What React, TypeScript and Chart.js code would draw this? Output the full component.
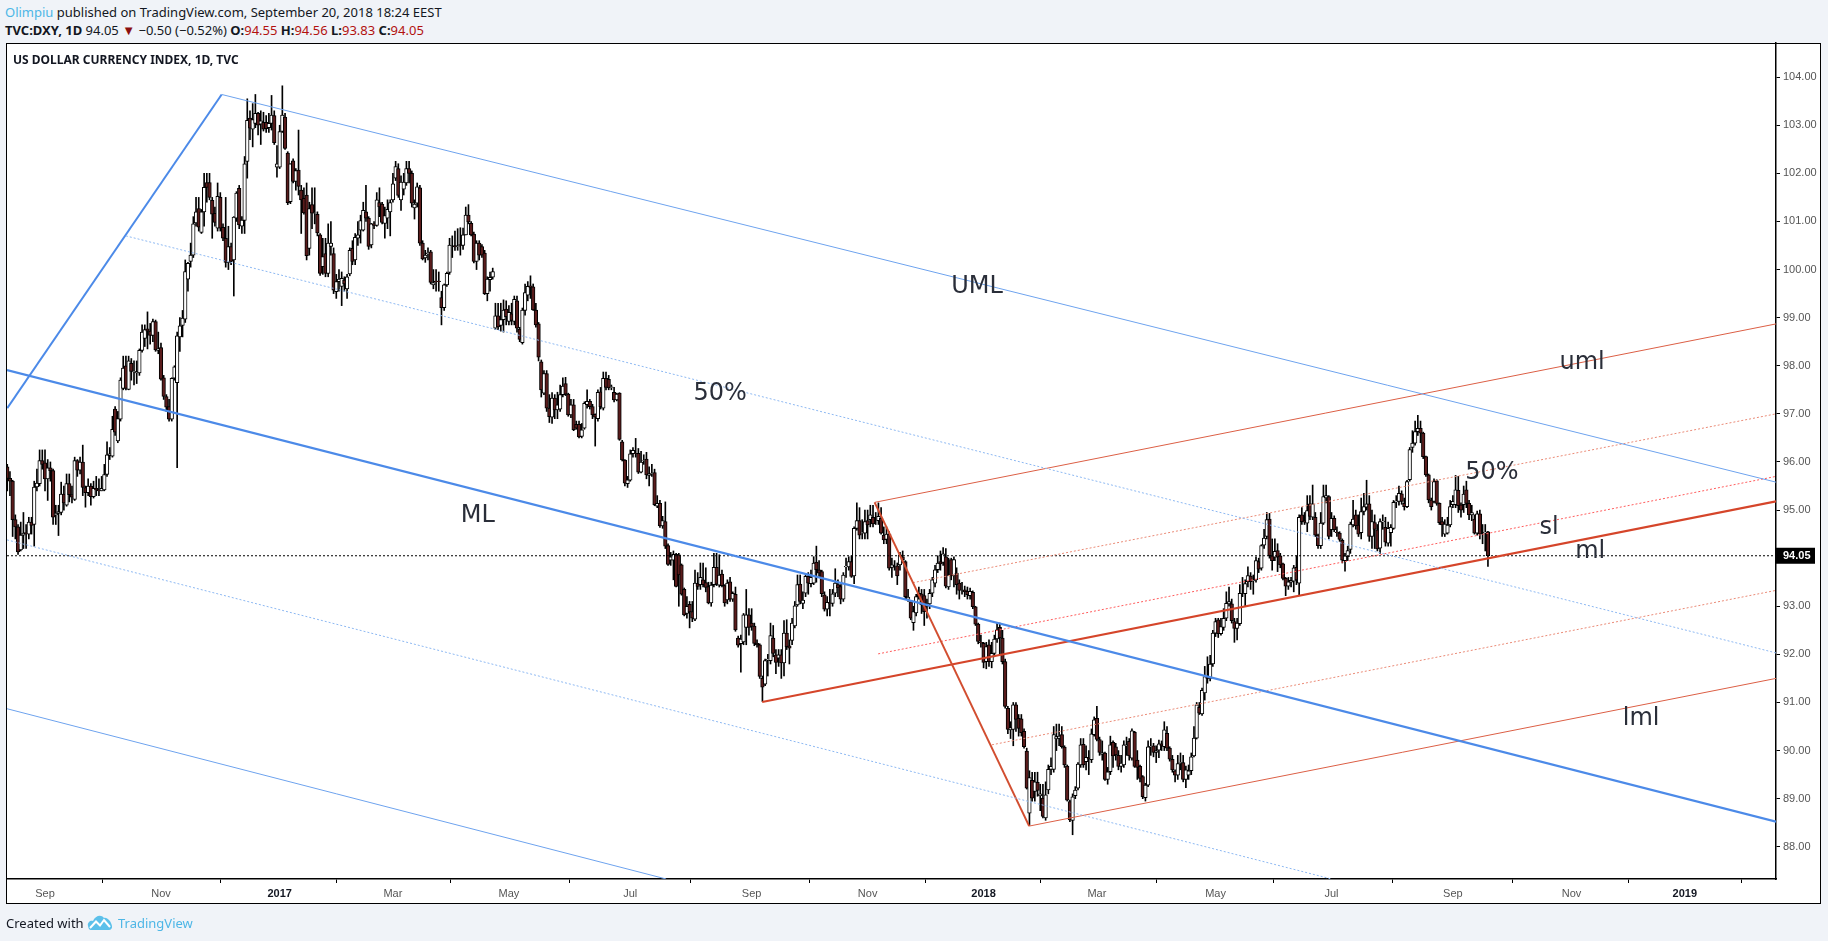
import React, { useEffect, useRef } from "react";
import { Chart, registerables } from "chart.js";

Chart.register(...registerables);

const firstBar = -14;
const opens = [
95.9,95.66,95.6,94.8,94.65,94.17,94.48,94.53,94.5,94.75,
94.7,95.48,95.55,96.03,95.98,95.65,95.88,95.82,94.9,94.93,
94.95,95.33,95.1,95.55,95.32,95.22,96.03,95.83,96,95.47,
95.36,95.5,95.28,95.45,95.42,95.4,95.42,95.74,96.13,96.12,
97.1,96.44,96.89,97.53,98,97.51,98.05,97.87,97.85,97.85,
98.32,98.57,98.77,98.72,98.63,98.92,98.32,98.38,97.75,97.36,
97.15,96.89,97.74,97.65,98.6,98.84,98.97,99.8,100.17,100.3,
100.97,101.27,100.77,101.2,101.81,101.81,101.44,101.17,100.86,101.5,
100.88,100.65,100.15,100.48,100.2,101.07,101.69,100.9,101.02,102.25,
103.15,102.92,103.04,103.25,103.02,103.06,103.06,102.95,103.04,103.2,
102.13,102.13,102.87,103.17,102.42,101.41,102.26,101.83,102.07,101.65,
101.48,101.55,100.44,101.35,101.17,101.15,100.72,100.06,100.33,99.92,
100.48,100.33,99.54,99.75,99.65,99.78,99.6,99.91,100.44,100.2,
100.65,100.82,100.82,101.2,101.07,100.51,100.95,100.92,101.39,101.36,
100.96,101.07,101.2,101.45,101.9,102.1,101.45,101.67,101.8,102.1,
102,101.28,101.38,101.7,100.55,100.24,100.33,100.37,99.68,99.76,
99.76,99.42,99.21,99.68,99.94,100.49,100.5,100.48,100.52,100.5,
100.72,101.13,100.96,100.74,100.17,100.55,100.48,100.34,99.5,99.79,
99.84,98.78,99.04,98.84,98.96,99.18,98.92,99.08,98.92,99.35,
98.76,98.48,99.15,99.47,99.66,99.64,99.16,98.87,98.08,97.43,
97.84,97.12,96.93,97.33,97.08,97.1,97.4,97.63,97.41,96.98,
97.19,96.78,96.78,96.53,96.7,97.19,97.26,97.15,96.99,96.9,
97.46,97.12,97.74,97.72,97.55,97.45,97.29,97.43,96.42,96.04,
95.55,95.62,96.17,96.18,96.18,95.79,96.03,96.06,95.72,95.76,
95.78,95.08,95.14,94.67,94.76,94.26,93.96,93.96,94.08,94.07,
93.86,93.35,92.85,93.04,92.89,92.73,93.47,93.45,93.55,93.49,
93.41,93.07,93.45,93.81,93.44,93.67,93.43,93.13,93.51,93.15,
93.25,92.34,92.22,92.26,92.56,92.82,92.65,92.59,92.23,92.2,
91.5,91.38,91.88,91.87,92.34,91.99,91.92,91.99,91.82,92.44,
92.18,92.29,92.59,93.03,93.46,93.06,93.27,93.62,93.47,93.48,
93.92,93.76,93.72,93.24,92.94,93.07,93.06,93.27,93.45,93.41,
93.15,93.82,93.82,93.93,93.63,94.62,94.78,94.52,94.52,94.78,
94.8,94.85,94.8,94.78,94.83,94.48,94.39,94.5,93.81,93.86,
93.84,93.86,94.03,93.93,93.14,93.1,92.66,92.86,93.27,93.26,
93.22,93,93.05,93.27,93.48,93.76,93.93,93.91,94.03,93.4,
93.97,93.63,93.69,93.48,93.35,93.34,93.31,93.22,93.29,92.99,
92.63,92.25,92.23,91.85,92.2,91.85,92.02,92.32,92.56,92.34,
91.85,90.88,90.43,90.44,90.95,90.67,90.66,90.4,89.99,88.7,
89.38,89.15,89.34,89.06,89.01,88.6,89.18,89.61,89.61,90.24,
90.25,90.33,90.07,89.68,88.94,88.55,89.06,89.22,89.7,90.13,
89.77,89.85,89.81,90.33,90.67,90.23,89.92,89.95,89.4,89.56,
90.17,90.08,89.9,89.67,89.7,90.1,90.19,89.84,90.38,89.8,
89.67,89.46,89.02,89.28,90.08,90.1,89.96,90.01,90.14,90.08,
90.36,90.05,89.82,89.58,89.49,89.74,89.75,89.4,89.49,89.58,
89.89,90.26,90.9,90.76,91.2,91.55,91.5,91.8,92.44,92.72,
92.43,92.56,92.75,93.05,93.05,92.68,92.54,92.64,93.3,93.26,
93.51,93.63,93.53,93.55,93.93,93.79,94.27,94.45,94.81,94.05,
94.02,94.16,94.05,93.88,93.58,93.42,93.5,93.52,93.81,93.48,
94.9,94.78,94.73,95.13,94.85,94.85,94.48,94.26,94.73,95.25,
95.28,94.59,94.83,94.54,94.52,94.37,93.95,94.03,94.18,94.69,
94.9,94.69,94.53,94.97,95.06,95.13,94.45,94.74,94.59,94.21,
94.76,94.64,94.31,94.53,94.62,95.17,95.18,95.34,95.14,95.07,
95.63,96.3,96.39,96.63,96.7,96.6,96.11,95.73,95.21,95.18,
95.61,95.14,94.76,94.5,94.52,94.69,95.11,95.11,95.41,95.11,
95.11,95.42,95.14,94.9,94.81,94.52,94.92,94.52,94.53,94.55,
];
const highs = [
95.95,95.8,95.62,94.9,94.7,94.75,94.95,94.7,94.85,94.85,
95.6,95.85,96.25,96.25,96.25,96.05,96,95.85,95.1,95.1,
95.58,95.5,95.75,95.75,95.5,96.1,96.05,96.1,96.35,95.5,
95.65,95.55,95.6,95.7,95.65,95.7,95.95,96.42,96.3,96.95,
97.15,97.05,97.75,98.2,98.2,98.2,98.15,98.1,98.1,98.35,
98.85,98.85,99.12,98.88,98.97,98.95,98.7,98.47,97.8,97.4,
97.3,97.75,98,98.7,99,99.15,100.2,100.15,100.55,101.1,
101.5,101.5,101.25,102,102,102,101.5,101.3,101.8,101.6,
100.95,101.5,100.9,100.55,101.1,101.62,101.75,101.1,102.35,103.55,
103.3,103.45,103.64,103.27,103.3,103.27,103.2,103.25,103.62,103.3,
102.58,103,103.82,103.25,102.45,102.2,102.3,102.1,102.9,101.75,
101.7,101.8,101.4,101.7,101.7,101.2,100.75,100.65,100.65,100.95,
101,100.45,99.9,100,99.95,99.85,99.9,100.45,100.6,100.75,
101,101.13,101.4,101.75,101.1,100.96,101,101.6,101.7,101.4,
101.3,101.45,101.45,102,102.25,102.2,101.95,102,102.25,102.25,
102.05,101.45,101.8,101.75,100.6,100.4,100.45,100.4,100,100,
99.95,99.55,99.7,99.95,100.65,100.7,100.8,100.85,100.87,100.86,
101.3,101.35,101,100.78,100.6,100.6,100.52,100.4,99.85,99.95,
100.03,99.3,99.3,99.3,99.37,99.35,99.25,99.3,99.45,99.45,
98.8,99.2,99.7,99.75,99.87,99.7,99.3,98.9,98.12,97.9,
97.9,97.4,97.44,97.4,97.45,97.6,97.75,97.76,97.43,97.3,
97.3,96.85,96.85,96.8,97.25,97.5,97.3,97.2,97,97.5,
97.55,97.87,97.87,97.8,97.6,97.55,97.43,97.44,96.45,96.05,
95.7,96.25,96.3,96.49,96.28,96.22,96.15,96.2,95.9,95.95,
95.85,95.3,95.2,94.87,95.17,94.3,94.12,94.15,94.1,94.1,
93.88,93.38,93.2,93.1,93.1,93.75,93.7,93.9,93.9,93.8,
93.5,93.5,94.1,94.1,94.07,93.75,93.45,93.55,93.6,93.3,
93.4,92.38,92.4,92.85,93.35,92.95,92.95,92.65,92.3,92.22,
91.55,91.9,92,92.65,92.6,92.1,92.1,92.1,92.7,92.72,
92.3,92.75,93.1,93.65,93.65,93.3,93.65,93.7,93.75,94.03,
94.25,93.95,93.75,93.3,93.2,93.35,93.35,93.78,93.55,93.45,
93.7,94,94.03,94.05,94.65,95.15,95.05,94.8,95,95,
95.1,95.1,94.95,95.15,95.05,94.65,94.65,94.55,94,93.95,
93.9,94.12,94.15,93.95,93.35,93.1,93,93.25,93.4,93.35,
93.35,93.15,93.35,93.6,93.85,94.05,94.15,94.22,94.2,94,
94,94.03,93.8,93.55,93.5,93.42,93.4,93.38,93.32,93,
92.65,92.4,92.25,92.25,92.3,92.25,92.4,92.65,92.65,92.5,
91.9,90.92,90.6,91,91,90.75,90.75,90.45,90.05,89.58,
89.55,89.55,89.55,89.3,89.3,89.35,89.7,89.85,90.5,90.55,
90.55,90.5,90.1,89.7,88.97,89.1,89.25,89.75,90.25,90.25,
90.1,90,90.45,90.7,90.92,90.28,90.2,89.97,89.65,90.3,
90.2,90.15,90,89.9,90.2,90.28,90.25,90.45,90.4,90,
89.7,89.48,89.32,90.2,90.25,90.15,90.1,90.22,90.2,90.6,
90.5,90.08,89.9,89.6,89.9,89.95,89.9,89.68,89.7,89.95,
90.5,91,91,91.3,91.75,91.95,91.98,92.5,92.75,92.75,
92.75,92.95,93.3,93.4,93.15,92.75,92.75,93.45,93.6,93.55,
93.82,93.7,93.65,94.03,94,94.28,94.6,94.95,94.93,94.4,
94.4,94.3,94.1,93.9,93.6,93.6,93.6,93.85,94.05,94.9,
95.05,94.95,95.3,95.3,95.52,94.95,94.5,94.95,95.52,95.52,
95.3,94.95,94.88,94.65,94.55,94.4,94.1,94.25,94.75,95.2,
95,94.9,95.25,95.35,95.62,95.3,95,94.9,94.7,94.82,
94.9,94.85,94.75,94.7,95.2,95.3,95.5,95.4,95.25,95.62,
96.3,96.65,96.85,96.97,96.85,96.62,96.12,95.75,95.25,95.65,
95.63,95.15,94.85,94.8,94.85,95.2,95.3,95.72,95.7,95.15,
95.5,95.6,95.2,95.1,94.9,94.98,95,94.7,94.7,94.56,
];
const lows = [
95.4,95.3,94.45,94.4,94.08,94.15,94.2,94.2,94.4,94.5,
94.25,95.4,95.5,95.85,95.4,95.2,95.6,94.7,94.7,94.47,
94.9,95,95.08,95.17,95.15,95.2,95.7,95.75,95.3,95.06,
95.3,95.1,95.25,95.3,95.3,95.4,95.4,95.7,96.05,96.1,
96.55,96.4,96.85,97.5,97.5,97.5,97.7,97.6,97.63,97.8,
98.28,98.4,98.35,98.45,98.5,98.3,98.25,97.7,97.3,97.05,
96.85,96.85,97.7,95.88,98.3,98.6,98.9,99.55,100.05,100.25,
100.9,100.8,100.75,100.9,101.4,101.45,100.65,100.9,100.8,100.8,
100.6,100.05,100,100.1,99.45,101,100.85,100.75,100.75,101.9,
102.7,102.55,102.95,102.8,102.6,102.88,102.85,102.85,102.9,102.6,
101.92,102.1,102.85,102.5,101.35,101.37,101.8,101.65,101.55,100.75,
101.15,100.2,100.3,100.85,100.95,100.7,99.88,99.9,99.85,99.85,
100.3,99.5,99.4,99.55,99.25,99.55,99.4,99.87,100.1,100.1,
100.5,100.55,100.8,101,100.42,100.45,100.85,100.9,101.1,100.95,
100.65,100.85,100.7,101.4,101.85,101.5,101.23,101.55,101.75,101.8,
101.3,101.05,101.3,100.5,100.2,100.15,100.2,99.7,99.6,99.55,
99.55,98.85,99.15,99.65,99.9,100.25,100.4,100.4,100.3,100.42,
100.72,100.95,100.7,100.14,100,100.2,100.25,99.48,99.35,99.55,
99.8,98.75,98.75,98.72,98.7,98.85,98.85,98.85,98.85,98.7,
98.5,98.45,99.05,99.35,99.4,99.15,98.8,98.1,97.35,97.4,
97.05,96.82,96.8,96.9,96.9,97.05,97.35,97.38,96.95,96.92,
96.65,96.68,96.5,96.5,96.68,97.12,97.1,96.9,96.33,96.85,
97.1,97.08,97.5,97.5,97.5,97.25,97.27,96.45,96.02,95.5,
95.47,95.6,96.1,96.1,95.76,95.77,95.95,95.65,95.5,95.7,
95.09,95.05,94.64,94.62,94.2,93.85,93.85,93.55,93.4,93,
93.23,92.8,92.75,92.55,92.68,92.7,93.35,93.35,93.4,93.3,
93.05,93,93.4,93.43,93.4,93.4,93,93.05,93.1,93.1,
92.48,92.15,91.63,92.2,92.2,92.4,92.5,92.18,92.15,91.5,
91.02,91.35,91.55,91.8,91.95,91.6,91.75,91.5,91.55,92.1,
91.8,92.2,92.55,93,93.05,92.95,93.2,93.25,93.4,93.45,
93.5,93.6,93.2,92.9,92.8,92.8,93,93.2,93.2,93.05,
93.1,93.6,93.75,93.6,93.47,94.58,94.4,94.4,94.4,94.4,
94.65,94.65,94.7,94.7,94.5,94.3,94.3,93.75,93.6,93.75,
93.45,93.75,93.9,93.15,93.1,92.72,92.5,92.8,93.15,92.85,
92.6,92.75,92.95,93.2,93.4,93.7,93.75,93.85,93.38,93.35,
93.55,93.4,93.25,93.15,93.25,93.2,93.15,93.15,92.95,92.6,
92.22,92.15,91.72,91.7,91.75,91.72,91.95,92.25,92,91.8,
90.88,90.35,90.25,90.1,90.4,90.3,90.3,90.05,89.2,88.45,
88.95,88.95,89.05,88.75,88.6,88.55,89.1,89.5,89.55,90,
90.1,90.05,89.65,88.95,88.52,88.25,89,89.18,89.65,89.65,
89.6,89.5,89.75,90.3,90.2,89.9,89.8,89.38,89.3,89.5,
89.65,89.8,89.6,89.55,89.65,89.9,89.8,89.8,89.65,89.4,
89.35,89,88.95,89.25,89.9,89.87,89.75,89.85,90,90,
90,89.78,89.55,89.35,89.4,89.6,89.35,89.23,89.4,89.5,
89.87,90.24,90.75,90.73,91.05,91.4,91.45,91.75,92.37,92.35,
92.4,92.5,92.7,93,92.65,92.25,92.3,92.6,93.2,93,
93.4,93.35,93.25,93.5,93.7,93.75,94.2,94.4,94,93.75,
93.95,93.72,93.8,93.55,93.22,93.35,93.4,93.3,93.45,93.22,
94.7,94.7,94.55,94.8,94.8,94.45,94.2,94.2,94.7,95.15,
94.4,94.45,94.55,94.45,94.35,93.9,93.73,93.95,94.1,94.65,
94.6,94.45,94.4,94.9,95,94.35,94.2,94.2,94.15,94.1,
94.6,94.25,94.25,94.25,94.6,95.05,95.1,95.12,95,95.05,
95.6,96.2,96.35,96.55,96.4,96.07,95.7,95.15,95,95.15,
95.1,94.7,94.45,94.45,94.5,94.65,95.05,95.05,94.95,94.85,
94.95,95.05,94.8,94.78,94.5,94.48,94.4,94.3,94.15,93.83,
];
const closes = [
95.66,95.6,94.8,94.65,94.13,94.48,94.52,94.51,94.75,94.68,
95.48,95.56,96.03,95.95,95.65,95.88,95.82,94.85,94.93,94.97,
95.33,95.15,95.55,95.32,95.27,96.03,95.83,96,95.47,95.36,
95.5,95.28,95.45,95.42,95.4,95.45,95.74,96.15,96.17,96.68,
96.62,96.9,97.7,97.95,97.53,98.1,97.88,97.88,97.88,98.32,
98.7,98.75,98.72,98.63,98.92,98.33,98.35,97.72,97.36,97.14,
96.89,97.74,97.98,98.62,98.83,98.99,99.96,100.13,100.3,100.95,
101.2,100.88,101.2,101.71,101.71,101.5,101.15,100.98,101.52,100.86,
100.65,100.15,100.48,100.17,101.09,101.59,100.93,101.03,102.2,103.1,
102.94,103.12,103.25,103,103.09,102.92,102.93,103.04,103.21,102.64,
102.2,102.87,103.21,102.52,101.39,102.2,101.83,102.06,101.73,101.45,
101.18,100.29,101.27,101.17,101.18,100.76,99.92,100.27,99.92,100.55,
100.55,99.57,99.75,99.8,99.82,99.7,99.85,100.4,100.17,100.67,
100.72,101.02,101.23,101.07,100.48,100.95,100.92,101.45,101.3,100.98,
101.12,101.25,101.39,101.78,102.14,101.54,101.82,101.82,102.1,102,
101.38,101.36,101.72,100.55,100.22,100.3,100.35,99.73,99.73,99.75,
99.75,99.21,99.68,99.92,100.51,100.49,100.47,100.49,100.5,100.72,
101.13,100.99,100.72,100.17,100.55,100.3,100.3,99.5,99.8,99.84,
99.96,99.04,98.81,98.96,99.16,99.02,99.11,98.94,99.38,98.78,
98.55,99.16,99.52,99.65,99.63,99.16,98.85,98.18,97.5,97.84,
97.12,96.94,97.33,97.08,97.19,97.4,97.58,97.41,96.98,97.19,
96.67,96.7,96.52,96.67,97.22,97.26,97.15,96.98,96.93,97.45,
97.15,97.74,97.55,97.54,97.56,97.29,97.41,96.47,96.04,95.56,
95.63,96.17,96.24,96.17,95.79,96,96.04,95.73,95.76,95.77,
95.11,95.14,94.67,94.78,94.25,93.87,94.03,94.08,93.41,93.65,
93.25,92.82,93,92.88,92.75,93.48,93.41,93.6,93.45,93.39,
93.07,93.44,93.81,93.46,93.65,93.43,93.07,93.48,93.15,93.27,
92.51,92.19,92.32,92.82,92.82,92.56,92.58,92.23,92.2,91.54,
91.32,91.87,91.9,92.39,92.02,91.83,91.99,91.82,92.44,92.16,
92.13,92.65,93.01,93.45,93.1,93.13,93.62,93.48,93.6,93.9,
93.76,93.69,93.26,92.94,93.08,93.06,93.26,93.48,93.38,93.15,
93.65,93.83,93.93,93.62,94.62,94.78,94.48,94.53,94.76,94.69,
94.9,94.71,94.8,94.87,94.52,94.38,94.5,93.79,93.86,93.86,
93.63,94.07,93.97,93.2,93.19,92.75,92.89,93.2,93.2,93.03,
92.89,93.03,93.27,93.55,93.76,93.9,93.88,94.09,93.42,93.65,
93.63,93.97,93.45,93.33,93.35,93.3,93.24,93.31,92.99,92.63,
92.27,92.24,91.83,92.16,91.85,92.02,92.32,92.51,92.34,91.85,
90.92,90.44,90.48,90.95,90.65,90.46,90.37,90.08,89.22,89.44,
89.01,89.35,89.17,89.1,88.63,89.08,89.61,89.67,90.33,90.29,
90.3,90.08,89.7,88.97,88.56,89.04,89.18,89.72,90.12,89.7,
89.86,89.83,90.35,90.64,90.23,89.96,89.96,89.4,89.56,90.12,
89.89,89.91,89.67,89.74,90.12,90.12,89.89,90.41,89.67,89.65,
89.42,89.04,89.28,90.08,90.09,89.96,90,90.14,90.1,90.43,
90.05,89.82,89.6,89.49,89.73,89.75,89.4,89.6,89.58,89.87,
90.26,90.95,90.78,91.25,91.54,91.5,91.8,92.44,92.68,92.43,
92.58,92.75,93.06,93.1,92.7,92.54,92.65,93.27,93.3,93.47,
93.64,93.51,93.55,93.95,93.77,94.26,94.42,94.8,94.05,93.95,
94.14,94.02,93.86,93.58,93.42,93.51,93.54,93.8,93.55,94.85,
94.76,94.75,94.99,94.87,95.13,94.48,94.26,94.73,95.28,95.3,
94.45,94.83,94.59,94.53,94.39,93.96,94.05,94.16,94.71,94.81,
94.67,94.5,94.97,95.07,95.13,94.45,94.76,94.6,94.19,94.76,
94.77,94.33,94.62,94.64,95.16,95.18,95.35,95.18,95.07,95.59,
96.26,96.39,96.63,96.7,96.6,96.11,95.73,95.21,95.07,95.59,
95.14,94.74,94.69,94.71,94.69,95.07,95.18,95.42,95.09,95,
95.33,95.14,94.9,94.95,94.52,94.92,94.5,94.52,94.54,94.05,
];

// x axis
const xMin = -14.09;
const xMax = 641.8;
const monthTicks = [0, 43, 87, 129, 172, 217, 262, 305, 348, 390, 434, 477, 522, 566, 608];
const monthLabels = ["Sep", "Nov", "2017", "Mar", "May", "Jul", "Sep", "Nov", "2018", "Mar", "May", "Jul", "Sep", "Nov", "2019"];
const yearLabels = ["2017", "2018", "2019"];
// y axis
const yMin = 87.33;
const yMax = 104.71;
const priceTicks = [88, 89, 90, 91, 92, 93, 94, 95, 96, 97, 98, 99, 100, 101, 102, 103, 104];
const lastPrice = 94.05;

// Drawings on the chart, each as [barIndexFrom, priceFrom, barIndexTo, priceTo]
const blueHandle = [-14, 97.12, 65.5, 103.64];
const blueUML = [65.5, 103.64, 641.8, 95.58];
const blueML = [-14.09, 97.91, 641.8, 88.52];
const blueUpper50 = [30, 100.7, 641.8, 92.03];
const blueLower50 = [-14.09, 94.38, 477, 87.33];
const blueLML = [-14.09, 90.87, 230.3, 87.33];
const redHandle = [307.6, 95.16, 364.9, 88.43];
const redML = [265.9, 91.01, 641.8, 95.18];
const redUML = [307.6, 95.16, 641.8, 98.87];
const redUpper50 = [321.8, 93.49, 641.8, 97.0];
const redSL = [308.9, 92.01, 641.8, 95.7];
const redLower50 = [351.1, 90.12, 641.8, 93.33];
const redLML = [364.9, 88.43, 641.8, 91.5];

const noteTexts = ["UML", "50%", "ML", "uml", "50%", "sl", "ml", "lml"];
const noteBars = [345.6, 250.3, 160.5, 569.9, 536.5, 557.7, 572.9, 591.8];
const notePrices = [99.64, 97.42, 94.88, 98.06, 95.77, 94.63, 94.13, 90.66];

const segment = (s: number[]) => [{ x: s[0], y: s[1] }, { x: s[2], y: s[3] }];

const lineDs = (seg: number[], color: string, width: number, dash: number[] = []) => ({
  type: "line" as const,
  data: segment(seg),
  borderColor: color,
  borderWidth: width,
  borderDash: dash,
  pointRadius: 0,
  fill: false,
  tension: 0,
  order: 0,
});

const FONT = '"Noto Sans", "Open Sans", sans-serif';
const AXIS_FONT = '"Liberation Sans", Arial, sans-serif';
const CYAN = "#4db6e6";
const RED = "#b2110f";

const overlay = {
  id: "overlay",
  afterDatasetsDraw(chart: any) {
    const { ctx, scales } = chart;
    ctx.save();
    ctx.font = '24px "DejaVu Sans"';
    ctx.fillStyle = "#2a2e39";
    ctx.textAlign = "center";
    ctx.textBaseline = "middle";
    noteTexts.forEach((t, i) => {
      ctx.fillText(t, scales.x.getPixelForValue(noteBars[i]), scales.y.getPixelForValue(notePrices[i]));
    });
    ctx.restore();
  },
  afterDraw(chart: any) {
    const { ctx, scales, chartArea } = chart;
    const y = scales.y.getPixelForValue(lastPrice);
    ctx.save();
    ctx.fillStyle = "#000";
    ctx.fillRect(chartArea.right, y - 8, 39, 16);
    ctx.fillStyle = "#fff";
    ctx.font = `bold 11px ${AXIS_FONT}`;
    ctx.textAlign = "left";
    ctx.textBaseline = "middle";
    ctx.fillText(lastPrice.toFixed(2), chartArea.right + 7, y + 0.5);
    ctx.restore();
  },
};

function App() {
  const ref = useRef<HTMLCanvasElement | null>(null);
  useEffect(() => {
    if (!ref.current) return;
    const bars = closes.map((_, i) => i + firstBar);
    const chart = new Chart(ref.current, {
      type: "bar",
      data: {
        datasets: [
          lineDs(blueLML, "#6ea3ee", 1),
          lineDs(blueLower50, "#8db8f2", 1, [2, 2]),
          lineDs(blueUpper50, "#8db8f2", 1, [2, 2]),
          lineDs(blueUML, "#6ea3ee", 1),
          lineDs(blueML, "#4c8ae8", 2.2),
          lineDs(blueHandle, "#4c8ae8", 2),
          lineDs(redHandle, "#d24e30", 2),
          lineDs(redLML, "#dc5f45", 1),
          lineDs(redUML, "#dc5f45", 1),
          lineDs(redUpper50, "#ea8a76", 1, [2, 2]),
          lineDs(redLower50, "#ea8a76", 1, [2, 2]),
          lineDs(redSL, "#ff5c5c", 1, [2, 2]),
          lineDs(redML, "#d5452a", 2.2),
          {
            type: "line" as const,
            data: [{ x: xMin, y: lastPrice }, { x: xMax, y: lastPrice }],
            borderColor: "#000",
            borderWidth: 1,
            borderDash: [2, 2],
            pointRadius: 0,
            order: 0,
          },
          {
            type: "bar" as const,
            data: bars.map((x, i) => ({ x, y: [opens[i], closes[i]] })),
            backgroundColor: bars.map((_, i) => (closes[i] >= opens[i] ? "#ffffff" : "#5a1c1c")),
            borderColor: "#000",
            borderWidth: 1,
            borderSkipped: false,
            barThickness: 3.6,
            grouped: false,
            order: 1,
          },
          {
            type: "bar" as const,
            data: bars.map((x, i) => ({
              x,
              y: [Math.min(lows[i], opens[i], closes[i]), Math.max(highs[i], opens[i], closes[i])],
            })),
            backgroundColor: "#000",
            borderWidth: 0,
            barThickness: 1,
            grouped: false,
            order: 2,
          },
        ] as any,
      },
      options: {
        responsive: false,
        animation: false,
        devicePixelRatio: 1,
        layout: { padding: { left: 7, top: 43, right: 0, bottom: 0 } },
        plugins: { legend: { display: false }, tooltip: { enabled: false }, title: { display: false } },
        scales: {
          x: {
            type: "linear",
            offset: false,
            min: xMin,
            max: xMax,
            grid: { display: true, drawOnChartArea: false, drawTicks: true, tickLength: 4, tickColor: "#000" },
            border: { display: true, color: "#000", width: 1.5 },
            afterBuildTicks: (s: any) => {
              s.ticks = monthTicks.map((value) => ({ value }));
            },
            afterFit: (s: any) => {
              s.height = 62;
            },
            ticks: {
              autoSkip: false,
              maxRotation: 0,
              padding: 4,
              callback: (_v: any, i: number) => monthLabels[i],
              color: (c: any) => (yearLabels.includes(monthLabels[c.index]) ? "#131722" : "#555"),
              font: (c: any) => ({
                family: AXIS_FONT,
                size: 11,
                weight: yearLabels.includes(monthLabels[c.index]) ? "bold" : "normal",
              }),
            },
          },
          y: {
            type: "linear",
            position: "right",
            min: yMin,
            max: yMax,
            grid: { display: true, drawOnChartArea: false, drawTicks: true, tickLength: 4, tickColor: "#000" },
            border: { display: true, color: "#000", width: 1.5 },
            afterBuildTicks: (s: any) => {
              s.ticks = priceTicks.map((value) => ({ value }));
            },
            afterFit: (s: any) => {
              s.width = 52;
            },
            ticks: {
              padding: 3,
              color: "#555",
              font: { family: AXIS_FONT, size: 11 },
              callback: (v: any) => Number(v).toFixed(2),
            },
          },
        },
      } as any,
      plugins: [overlay],
    } as any);
    return () => chart.destroy();
  }, []);

  return (
    <div style={{ position: "absolute", left: 0, top: 0, width: 1828, height: 941, background: "#f0f3f8", overflow: "hidden" }}>
      <div style={{ position: "absolute", left: 5, top: 3, font: `13px ${FONT}`, color: "#131722", whiteSpace: "nowrap", lineHeight: "18px" }}>
        <span style={{ color: CYAN }}>Olimpiu</span> published on TradingView.com, September 20, 2018 18:24 EEST
      </div>
      <div style={{ position: "absolute", left: 5, top: 21, font: `13px ${FONT}`, color: "#131722", whiteSpace: "nowrap", lineHeight: "18px" }}>
        <b>TVC:DXY, 1D</b> 94.05 <span style={{ color: "#8b0f0f" }}>▼</span> −0.50 (−0.52%) <b>O:</b><span style={{ color: RED }}>94.55</span> <b>H:</b><span style={{ color: RED }}>94.56</span> <b>L:</b><span style={{ color: RED }}>93.83</span> <b>C:</b><span style={{ color: RED }}>94.05</span>
      </div>
      <div style={{ position: "absolute", left: 6, top: 43, width: 1815, height: 861, background: "#fff", border: "1px solid #000", boxSizing: "border-box" }} />
      <canvas ref={ref} width={1828} height={941} style={{ position: "absolute", left: 0, top: 0, width: 1828, height: 941 }} />
      <div style={{ position: "absolute", left: 13, top: 51, font: `bold 12px ${FONT}`, color: "#131722", whiteSpace: "nowrap", lineHeight: "18px" }}>
        US DOLLAR CURRENCY INDEX, 1D, TVC
      </div>
      <div style={{ position: "absolute", left: 6, top: 913, font: `13px ${FONT}`, color: "#131722", whiteSpace: "nowrap", lineHeight: "20px" }}>
        Created with
      </div>
      <svg style={{ position: "absolute", left: 87, top: 914 }} width="26" height="16" viewBox="0 0 26 16">
        <path d="M1 12 C0 8 4 6 6 7 C8 2 14 0 17 4 C20 3 24 7 25 12 C25.5 14 24 16 22 16 L4 16 C2 16 1.4 14 1 12 Z" fill="#5cc0ea" />
        <path d="M3 14 L9 7.5 L13 11.5 L17 6 L23 13" fill="none" stroke="#fff" strokeWidth="2" />
      </svg>
      <div style={{ position: "absolute", left: 118, top: 913, font: `13px ${FONT}`, color: CYAN, whiteSpace: "nowrap", lineHeight: "20px" }}>
        TradingView
      </div>
    </div>
  );
}

export default App;
